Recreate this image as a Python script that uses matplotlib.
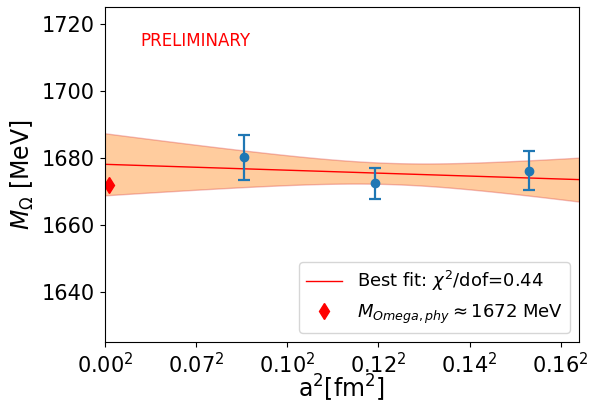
import matplotlib.pyplot as plt
import numpy as np

# lattice data: a^2 [fm^2], M_Omega [MeV], error
a2 = np.array([0.00762, 0.01482, 0.02325])
mass = np.array([1680.1, 1672.4, 1676.2])
err = np.array([6.6, 4.6, 5.8])

# physical point
phys_x = 0.00022
phys_m = 1672.0

xticks = [0.0, 0.005, 0.010, 0.015, 0.020, 0.025]
xticklabels = ['0.00$^2$', '0.07$^2$', '0.10$^2$', '0.12$^2$', '0.14$^2$', '0.16$^2$']

# weighted linear fit in a^2
coef, cov = np.polyfit(a2, mass, 1, w=1 / err, cov='unscaled')
xfit = np.linspace(0, 0.026, 200)
yfit = coef[0] * xfit + coef[1]
yerr = np.sqrt(cov[1, 1] + 2 * cov[0, 1] * xfit + cov[0, 0] * xfit**2)

fig, ax = plt.subplots(figsize=(5.89, 4.04), dpi=100)
fig.subplots_adjust(left=0.178, right=0.983, top=0.982, bottom=0.154)

ax.fill_between(xfit, yfit - yerr, yfit + yerr, facecolor=(1.0, 0.5, 0.05, 0.4),
                edgecolor=(0.84, 0.15, 0.16, 0.3), linewidth=1)
ax.plot(xfit, yfit, color='red', linewidth=1, label=r'Best fit: $\chi^2$/dof=0.44')
ax.errorbar(a2, mass, yerr=err, fmt='o', color='C0', markersize=6,
            elinewidth=1.6, capsize=4.5, capthick=1.6)
ax.plot(phys_x, phys_m, 'd', color='red', markersize=8,
        label=r'$M_{Omega,phy}\approx$1672 MeV', linestyle='none')

ax.text(0.074, 0.9, 'PRELIMINARY', color='red', fontsize=12, transform=ax.transAxes,
        va='center')

ax.set_xlim(0, 0.026)
ax.set_ylim(1625, 1725)
ax.set_xticks(xticks)
ax.set_xticklabels(xticklabels)
ax.set_yticks([1640, 1660, 1680, 1700, 1720])
ax.tick_params(labelsize=15)
ax.set_xlabel('a$^2$[fm$^2$]', fontsize=17, labelpad=-2.5)
ax.set_ylabel(r'$M_{\Omega}$ [MeV]', fontsize=17)
ax.legend(loc='lower right', fontsize=13)

plt.savefig('out.png')
